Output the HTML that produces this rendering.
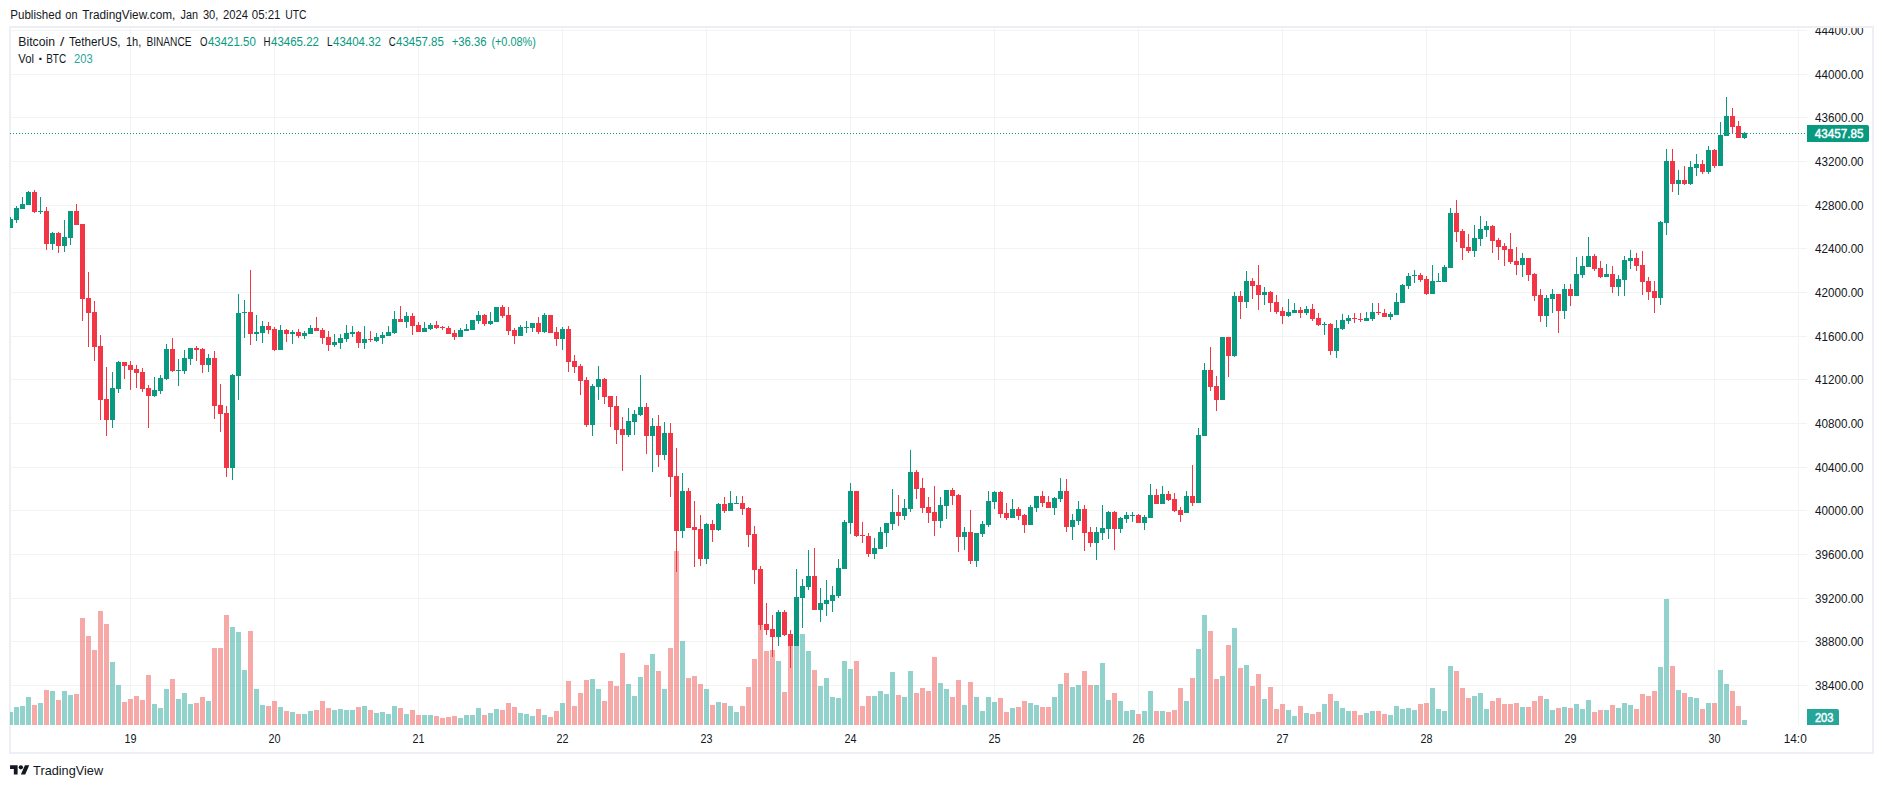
<!DOCTYPE html>
<html><head><meta charset="utf-8"><title>BTCUSDT chart</title>
<style>
html,body{margin:0;padding:0;background:#fff;}
body{width:1883px;height:788px;overflow:hidden;}
svg{display:block;}
text{font-family:"Liberation Sans",sans-serif;font-size:12px;fill:#131722;}
.ax{font-size:12.2px;}
.lb{font-size:12.6px;}
.g{fill:#089981;}
.v{fill:#26a69a;}
.w{fill:#fff;stroke:#fff;stroke-width:0.45px;}
</style></head><body>
<svg width="1883" height="788" viewBox="0 0 1883 788">
<rect width="1883" height="788" fill="#fff"/>
<defs><clipPath id="pane"><rect x="10" y="28" width="1797" height="697"/></clipPath>
<clipPath id="taxis"><rect x="10" y="725" width="1797" height="30"/></clipPath>
<clipPath id="paxis"><rect x="1807" y="28" width="70" height="697"/></clipPath></defs>

<rect x="10" y="27" width="1863" height="726" fill="none" stroke="#edeff4" stroke-width="2"/>
<g shape-rendering="crispEdges" fill="#f2f4f4">
<rect x="10" y="30" width="1797" height="1"/>
<rect x="10" y="74" width="1797" height="1"/>
<rect x="10" y="117" width="1797" height="1"/>
<rect x="10" y="161" width="1797" height="1"/>
<rect x="10" y="205" width="1797" height="1"/>
<rect x="10" y="248" width="1797" height="1"/>
<rect x="10" y="292" width="1797" height="1"/>
<rect x="10" y="336" width="1797" height="1"/>
<rect x="10" y="379" width="1797" height="1"/>
<rect x="10" y="423" width="1797" height="1"/>
<rect x="10" y="467" width="1797" height="1"/>
<rect x="10" y="510" width="1797" height="1"/>
<rect x="10" y="554" width="1797" height="1"/>
<rect x="10" y="598" width="1797" height="1"/>
<rect x="10" y="641" width="1797" height="1"/>
<rect x="10" y="685" width="1797" height="1"/>
<rect x="130" y="28" width="1" height="697"/>
<rect x="274" y="28" width="1" height="697"/>
<rect x="418" y="28" width="1" height="697"/>
<rect x="562" y="28" width="1" height="697"/>
<rect x="706" y="28" width="1" height="697"/>
<rect x="850" y="28" width="1" height="697"/>
<rect x="994" y="28" width="1" height="697"/>
<rect x="1138" y="28" width="1" height="697"/>
<rect x="1282" y="28" width="1" height="697"/>
<rect x="1426" y="28" width="1" height="697"/>
<rect x="1570" y="28" width="1" height="697"/>
<rect x="1714" y="28" width="1" height="697"/>
<rect x="1798" y="28" width="1" height="697"/>
</g>
<g shape-rendering="crispEdges" clip-path="url(#pane)">
<rect x="8" y="712" width="5" height="13" fill="rgba(38,166,154,0.5)"/>
<rect x="14" y="707" width="5" height="18" fill="rgba(38,166,154,0.5)"/>
<rect x="20" y="706" width="5" height="19" fill="rgba(38,166,154,0.5)"/>
<rect x="26" y="697" width="5" height="28" fill="rgba(38,166,154,0.5)"/>
<rect x="32" y="705" width="5" height="20" fill="rgba(239,83,80,0.5)"/>
<rect x="38" y="703" width="5" height="22" fill="rgba(38,166,154,0.5)"/>
<rect x="44" y="690" width="5" height="35" fill="rgba(239,83,80,0.5)"/>
<rect x="50" y="691" width="5" height="34" fill="rgba(38,166,154,0.5)"/>
<rect x="56" y="700" width="5" height="25" fill="rgba(239,83,80,0.5)"/>
<rect x="62" y="691" width="5" height="34" fill="rgba(38,166,154,0.5)"/>
<rect x="68" y="695" width="5" height="30" fill="rgba(38,166,154,0.5)"/>
<rect x="74" y="694" width="5" height="31" fill="rgba(239,83,80,0.5)"/>
<rect x="80" y="618" width="5" height="107" fill="rgba(239,83,80,0.5)"/>
<rect x="86" y="636" width="5" height="89" fill="rgba(239,83,80,0.5)"/>
<rect x="92" y="650" width="5" height="75" fill="rgba(239,83,80,0.5)"/>
<rect x="98" y="611" width="5" height="114" fill="rgba(239,83,80,0.5)"/>
<rect x="104" y="624" width="5" height="101" fill="rgba(239,83,80,0.5)"/>
<rect x="110" y="662" width="5" height="63" fill="rgba(38,166,154,0.5)"/>
<rect x="116" y="685" width="5" height="40" fill="rgba(38,166,154,0.5)"/>
<rect x="122" y="702" width="5" height="23" fill="rgba(239,83,80,0.5)"/>
<rect x="128" y="699" width="5" height="26" fill="rgba(239,83,80,0.5)"/>
<rect x="134" y="696" width="5" height="29" fill="rgba(239,83,80,0.5)"/>
<rect x="140" y="700" width="5" height="25" fill="rgba(239,83,80,0.5)"/>
<rect x="146" y="675" width="5" height="50" fill="rgba(239,83,80,0.5)"/>
<rect x="152" y="704" width="5" height="21" fill="rgba(38,166,154,0.5)"/>
<rect x="158" y="708" width="5" height="17" fill="rgba(38,166,154,0.5)"/>
<rect x="164" y="689" width="5" height="36" fill="rgba(38,166,154,0.5)"/>
<rect x="170" y="679" width="5" height="46" fill="rgba(239,83,80,0.5)"/>
<rect x="176" y="699" width="5" height="26" fill="rgba(38,166,154,0.5)"/>
<rect x="182" y="693" width="5" height="32" fill="rgba(38,166,154,0.5)"/>
<rect x="188" y="704" width="5" height="21" fill="rgba(38,166,154,0.5)"/>
<rect x="194" y="703" width="5" height="22" fill="rgba(239,83,80,0.5)"/>
<rect x="200" y="697" width="5" height="28" fill="rgba(239,83,80,0.5)"/>
<rect x="206" y="701" width="5" height="24" fill="rgba(38,166,154,0.5)"/>
<rect x="212" y="648" width="5" height="77" fill="rgba(239,83,80,0.5)"/>
<rect x="218" y="648" width="5" height="77" fill="rgba(239,83,80,0.5)"/>
<rect x="224" y="615" width="5" height="110" fill="rgba(239,83,80,0.5)"/>
<rect x="230" y="627" width="5" height="98" fill="rgba(38,166,154,0.5)"/>
<rect x="236" y="632" width="5" height="93" fill="rgba(38,166,154,0.5)"/>
<rect x="242" y="670" width="5" height="55" fill="rgba(38,166,154,0.5)"/>
<rect x="248" y="631" width="5" height="94" fill="rgba(239,83,80,0.5)"/>
<rect x="254" y="689" width="5" height="36" fill="rgba(38,166,154,0.5)"/>
<rect x="260" y="705" width="5" height="20" fill="rgba(38,166,154,0.5)"/>
<rect x="266" y="706" width="5" height="19" fill="rgba(239,83,80,0.5)"/>
<rect x="272" y="701" width="5" height="24" fill="rgba(239,83,80,0.5)"/>
<rect x="278" y="707" width="5" height="18" fill="rgba(38,166,154,0.5)"/>
<rect x="284" y="711" width="5" height="14" fill="rgba(239,83,80,0.5)"/>
<rect x="290" y="712" width="5" height="13" fill="rgba(38,166,154,0.5)"/>
<rect x="296" y="714" width="5" height="11" fill="rgba(239,83,80,0.5)"/>
<rect x="302" y="714" width="5" height="11" fill="rgba(38,166,154,0.5)"/>
<rect x="308" y="711" width="5" height="14" fill="rgba(38,166,154,0.5)"/>
<rect x="314" y="710" width="5" height="15" fill="rgba(239,83,80,0.5)"/>
<rect x="320" y="701" width="5" height="24" fill="rgba(239,83,80,0.5)"/>
<rect x="326" y="708" width="5" height="17" fill="rgba(239,83,80,0.5)"/>
<rect x="332" y="710" width="5" height="15" fill="rgba(38,166,154,0.5)"/>
<rect x="338" y="709" width="5" height="16" fill="rgba(38,166,154,0.5)"/>
<rect x="344" y="710" width="5" height="15" fill="rgba(38,166,154,0.5)"/>
<rect x="350" y="710" width="5" height="15" fill="rgba(38,166,154,0.5)"/>
<rect x="356" y="707" width="5" height="18" fill="rgba(239,83,80,0.5)"/>
<rect x="362" y="706" width="5" height="19" fill="rgba(38,166,154,0.5)"/>
<rect x="368" y="710" width="5" height="15" fill="rgba(239,83,80,0.5)"/>
<rect x="374" y="713" width="5" height="12" fill="rgba(38,166,154,0.5)"/>
<rect x="380" y="712" width="5" height="13" fill="rgba(38,166,154,0.5)"/>
<rect x="386" y="714" width="5" height="11" fill="rgba(38,166,154,0.5)"/>
<rect x="392" y="706" width="5" height="19" fill="rgba(38,166,154,0.5)"/>
<rect x="398" y="708" width="5" height="17" fill="rgba(239,83,80,0.5)"/>
<rect x="404" y="714" width="5" height="11" fill="rgba(38,166,154,0.5)"/>
<rect x="410" y="710" width="5" height="15" fill="rgba(239,83,80,0.5)"/>
<rect x="416" y="715" width="5" height="10" fill="rgba(239,83,80,0.5)"/>
<rect x="422" y="715" width="5" height="10" fill="rgba(38,166,154,0.5)"/>
<rect x="428" y="715" width="5" height="10" fill="rgba(38,166,154,0.5)"/>
<rect x="434" y="716" width="5" height="9" fill="rgba(239,83,80,0.5)"/>
<rect x="440" y="718" width="5" height="7" fill="rgba(239,83,80,0.5)"/>
<rect x="446" y="717" width="5" height="8" fill="rgba(239,83,80,0.5)"/>
<rect x="452" y="716" width="5" height="9" fill="rgba(239,83,80,0.5)"/>
<rect x="458" y="718" width="5" height="7" fill="rgba(38,166,154,0.5)"/>
<rect x="464" y="715" width="5" height="10" fill="rgba(38,166,154,0.5)"/>
<rect x="470" y="715" width="5" height="10" fill="rgba(38,166,154,0.5)"/>
<rect x="476" y="708" width="5" height="17" fill="rgba(38,166,154,0.5)"/>
<rect x="482" y="715" width="5" height="10" fill="rgba(239,83,80,0.5)"/>
<rect x="488" y="713" width="5" height="12" fill="rgba(38,166,154,0.5)"/>
<rect x="494" y="709" width="5" height="16" fill="rgba(38,166,154,0.5)"/>
<rect x="500" y="710" width="5" height="15" fill="rgba(239,83,80,0.5)"/>
<rect x="506" y="703" width="5" height="22" fill="rgba(239,83,80,0.5)"/>
<rect x="512" y="707" width="5" height="18" fill="rgba(239,83,80,0.5)"/>
<rect x="518" y="713" width="5" height="12" fill="rgba(38,166,154,0.5)"/>
<rect x="524" y="714" width="5" height="11" fill="rgba(38,166,154,0.5)"/>
<rect x="530" y="716" width="5" height="9" fill="rgba(38,166,154,0.5)"/>
<rect x="536" y="709" width="5" height="16" fill="rgba(239,83,80,0.5)"/>
<rect x="542" y="715" width="5" height="10" fill="rgba(38,166,154,0.5)"/>
<rect x="548" y="717" width="5" height="8" fill="rgba(239,83,80,0.5)"/>
<rect x="554" y="711" width="5" height="14" fill="rgba(239,83,80,0.5)"/>
<rect x="560" y="703" width="5" height="22" fill="rgba(38,166,154,0.5)"/>
<rect x="566" y="681" width="5" height="44" fill="rgba(239,83,80,0.5)"/>
<rect x="572" y="706" width="5" height="19" fill="rgba(239,83,80,0.5)"/>
<rect x="578" y="693" width="5" height="32" fill="rgba(239,83,80,0.5)"/>
<rect x="584" y="680" width="5" height="45" fill="rgba(239,83,80,0.5)"/>
<rect x="590" y="679" width="5" height="46" fill="rgba(38,166,154,0.5)"/>
<rect x="596" y="689" width="5" height="36" fill="rgba(38,166,154,0.5)"/>
<rect x="602" y="701" width="5" height="24" fill="rgba(239,83,80,0.5)"/>
<rect x="608" y="681" width="5" height="44" fill="rgba(239,83,80,0.5)"/>
<rect x="614" y="686" width="5" height="39" fill="rgba(239,83,80,0.5)"/>
<rect x="620" y="653" width="5" height="72" fill="rgba(239,83,80,0.5)"/>
<rect x="626" y="684" width="5" height="41" fill="rgba(38,166,154,0.5)"/>
<rect x="632" y="696" width="5" height="29" fill="rgba(38,166,154,0.5)"/>
<rect x="638" y="677" width="5" height="48" fill="rgba(38,166,154,0.5)"/>
<rect x="644" y="665" width="5" height="60" fill="rgba(239,83,80,0.5)"/>
<rect x="650" y="654" width="5" height="71" fill="rgba(38,166,154,0.5)"/>
<rect x="656" y="671" width="5" height="54" fill="rgba(239,83,80,0.5)"/>
<rect x="662" y="689" width="5" height="36" fill="rgba(38,166,154,0.5)"/>
<rect x="668" y="648" width="5" height="77" fill="rgba(239,83,80,0.5)"/>
<rect x="674" y="551" width="5" height="174" fill="rgba(239,83,80,0.5)"/>
<rect x="680" y="641" width="5" height="84" fill="rgba(38,166,154,0.5)"/>
<rect x="686" y="678" width="5" height="47" fill="rgba(239,83,80,0.5)"/>
<rect x="692" y="676" width="5" height="49" fill="rgba(239,83,80,0.5)"/>
<rect x="698" y="684" width="5" height="41" fill="rgba(239,83,80,0.5)"/>
<rect x="704" y="689" width="5" height="36" fill="rgba(38,166,154,0.5)"/>
<rect x="710" y="705" width="5" height="20" fill="rgba(239,83,80,0.5)"/>
<rect x="716" y="702" width="5" height="23" fill="rgba(38,166,154,0.5)"/>
<rect x="722" y="703" width="5" height="22" fill="rgba(239,83,80,0.5)"/>
<rect x="728" y="706" width="5" height="19" fill="rgba(38,166,154,0.5)"/>
<rect x="734" y="712" width="5" height="13" fill="rgba(38,166,154,0.5)"/>
<rect x="740" y="706" width="5" height="19" fill="rgba(239,83,80,0.5)"/>
<rect x="746" y="687" width="5" height="38" fill="rgba(239,83,80,0.5)"/>
<rect x="752" y="659" width="5" height="66" fill="rgba(239,83,80,0.5)"/>
<rect x="758" y="622" width="5" height="103" fill="rgba(239,83,80,0.5)"/>
<rect x="764" y="651" width="5" height="74" fill="rgba(239,83,80,0.5)"/>
<rect x="770" y="650" width="5" height="75" fill="rgba(239,83,80,0.5)"/>
<rect x="776" y="661" width="5" height="64" fill="rgba(38,166,154,0.5)"/>
<rect x="782" y="692" width="5" height="33" fill="rgba(239,83,80,0.5)"/>
<rect x="788" y="640" width="5" height="85" fill="rgba(239,83,80,0.5)"/>
<rect x="794" y="640" width="5" height="85" fill="rgba(38,166,154,0.5)"/>
<rect x="800" y="634" width="5" height="91" fill="rgba(38,166,154,0.5)"/>
<rect x="806" y="651" width="5" height="74" fill="rgba(38,166,154,0.5)"/>
<rect x="812" y="670" width="5" height="55" fill="rgba(239,83,80,0.5)"/>
<rect x="818" y="686" width="5" height="39" fill="rgba(38,166,154,0.5)"/>
<rect x="824" y="678" width="5" height="47" fill="rgba(38,166,154,0.5)"/>
<rect x="830" y="697" width="5" height="28" fill="rgba(38,166,154,0.5)"/>
<rect x="836" y="698" width="5" height="27" fill="rgba(38,166,154,0.5)"/>
<rect x="842" y="661" width="5" height="64" fill="rgba(38,166,154,0.5)"/>
<rect x="848" y="669" width="5" height="56" fill="rgba(38,166,154,0.5)"/>
<rect x="854" y="661" width="5" height="64" fill="rgba(239,83,80,0.5)"/>
<rect x="860" y="706" width="5" height="19" fill="rgba(239,83,80,0.5)"/>
<rect x="866" y="696" width="5" height="29" fill="rgba(239,83,80,0.5)"/>
<rect x="872" y="696" width="5" height="29" fill="rgba(38,166,154,0.5)"/>
<rect x="878" y="691" width="5" height="34" fill="rgba(38,166,154,0.5)"/>
<rect x="884" y="694" width="5" height="31" fill="rgba(38,166,154,0.5)"/>
<rect x="890" y="672" width="5" height="53" fill="rgba(38,166,154,0.5)"/>
<rect x="896" y="695" width="5" height="30" fill="rgba(239,83,80,0.5)"/>
<rect x="902" y="697" width="5" height="28" fill="rgba(38,166,154,0.5)"/>
<rect x="908" y="671" width="5" height="54" fill="rgba(38,166,154,0.5)"/>
<rect x="914" y="693" width="5" height="32" fill="rgba(239,83,80,0.5)"/>
<rect x="920" y="688" width="5" height="37" fill="rgba(239,83,80,0.5)"/>
<rect x="926" y="691" width="5" height="34" fill="rgba(239,83,80,0.5)"/>
<rect x="932" y="657" width="5" height="68" fill="rgba(239,83,80,0.5)"/>
<rect x="938" y="683" width="5" height="42" fill="rgba(38,166,154,0.5)"/>
<rect x="944" y="689" width="5" height="36" fill="rgba(38,166,154,0.5)"/>
<rect x="950" y="697" width="5" height="28" fill="rgba(239,83,80,0.5)"/>
<rect x="956" y="680" width="5" height="45" fill="rgba(239,83,80,0.5)"/>
<rect x="962" y="705" width="5" height="20" fill="rgba(38,166,154,0.5)"/>
<rect x="968" y="682" width="5" height="43" fill="rgba(239,83,80,0.5)"/>
<rect x="974" y="697" width="5" height="28" fill="rgba(38,166,154,0.5)"/>
<rect x="980" y="711" width="5" height="14" fill="rgba(38,166,154,0.5)"/>
<rect x="986" y="697" width="5" height="28" fill="rgba(38,166,154,0.5)"/>
<rect x="992" y="702" width="5" height="23" fill="rgba(38,166,154,0.5)"/>
<rect x="998" y="698" width="5" height="27" fill="rgba(239,83,80,0.5)"/>
<rect x="1004" y="712" width="5" height="13" fill="rgba(239,83,80,0.5)"/>
<rect x="1010" y="708" width="5" height="17" fill="rgba(38,166,154,0.5)"/>
<rect x="1016" y="707" width="5" height="18" fill="rgba(239,83,80,0.5)"/>
<rect x="1022" y="701" width="5" height="24" fill="rgba(239,83,80,0.5)"/>
<rect x="1028" y="703" width="5" height="22" fill="rgba(38,166,154,0.5)"/>
<rect x="1034" y="705" width="5" height="20" fill="rgba(38,166,154,0.5)"/>
<rect x="1040" y="707" width="5" height="18" fill="rgba(239,83,80,0.5)"/>
<rect x="1046" y="707" width="5" height="18" fill="rgba(239,83,80,0.5)"/>
<rect x="1052" y="697" width="5" height="28" fill="rgba(38,166,154,0.5)"/>
<rect x="1058" y="684" width="5" height="41" fill="rgba(38,166,154,0.5)"/>
<rect x="1064" y="673" width="5" height="52" fill="rgba(239,83,80,0.5)"/>
<rect x="1070" y="687" width="5" height="38" fill="rgba(38,166,154,0.5)"/>
<rect x="1076" y="685" width="5" height="40" fill="rgba(38,166,154,0.5)"/>
<rect x="1082" y="671" width="5" height="54" fill="rgba(239,83,80,0.5)"/>
<rect x="1088" y="685" width="5" height="40" fill="rgba(239,83,80,0.5)"/>
<rect x="1094" y="685" width="5" height="40" fill="rgba(38,166,154,0.5)"/>
<rect x="1100" y="663" width="5" height="62" fill="rgba(38,166,154,0.5)"/>
<rect x="1106" y="700" width="5" height="25" fill="rgba(38,166,154,0.5)"/>
<rect x="1112" y="693" width="5" height="32" fill="rgba(239,83,80,0.5)"/>
<rect x="1118" y="701" width="5" height="24" fill="rgba(38,166,154,0.5)"/>
<rect x="1124" y="711" width="5" height="14" fill="rgba(38,166,154,0.5)"/>
<rect x="1130" y="710" width="5" height="15" fill="rgba(38,166,154,0.5)"/>
<rect x="1136" y="714" width="5" height="11" fill="rgba(239,83,80,0.5)"/>
<rect x="1142" y="711" width="5" height="14" fill="rgba(38,166,154,0.5)"/>
<rect x="1148" y="691" width="5" height="34" fill="rgba(38,166,154,0.5)"/>
<rect x="1154" y="711" width="5" height="14" fill="rgba(239,83,80,0.5)"/>
<rect x="1160" y="711" width="5" height="14" fill="rgba(38,166,154,0.5)"/>
<rect x="1166" y="712" width="5" height="13" fill="rgba(239,83,80,0.5)"/>
<rect x="1172" y="710" width="5" height="15" fill="rgba(239,83,80,0.5)"/>
<rect x="1178" y="688" width="5" height="37" fill="rgba(239,83,80,0.5)"/>
<rect x="1184" y="701" width="5" height="24" fill="rgba(38,166,154,0.5)"/>
<rect x="1190" y="678" width="5" height="47" fill="rgba(239,83,80,0.5)"/>
<rect x="1196" y="649" width="5" height="76" fill="rgba(38,166,154,0.5)"/>
<rect x="1202" y="615" width="5" height="110" fill="rgba(38,166,154,0.5)"/>
<rect x="1208" y="631" width="5" height="94" fill="rgba(239,83,80,0.5)"/>
<rect x="1214" y="679" width="5" height="46" fill="rgba(239,83,80,0.5)"/>
<rect x="1220" y="676" width="5" height="49" fill="rgba(38,166,154,0.5)"/>
<rect x="1226" y="645" width="5" height="80" fill="rgba(239,83,80,0.5)"/>
<rect x="1232" y="628" width="5" height="97" fill="rgba(38,166,154,0.5)"/>
<rect x="1238" y="668" width="5" height="57" fill="rgba(239,83,80,0.5)"/>
<rect x="1244" y="665" width="5" height="60" fill="rgba(38,166,154,0.5)"/>
<rect x="1250" y="686" width="5" height="39" fill="rgba(239,83,80,0.5)"/>
<rect x="1256" y="674" width="5" height="51" fill="rgba(239,83,80,0.5)"/>
<rect x="1262" y="699" width="5" height="26" fill="rgba(38,166,154,0.5)"/>
<rect x="1268" y="687" width="5" height="38" fill="rgba(239,83,80,0.5)"/>
<rect x="1274" y="709" width="5" height="16" fill="rgba(239,83,80,0.5)"/>
<rect x="1280" y="704" width="5" height="21" fill="rgba(239,83,80,0.5)"/>
<rect x="1286" y="710" width="5" height="15" fill="rgba(38,166,154,0.5)"/>
<rect x="1292" y="716" width="5" height="9" fill="rgba(38,166,154,0.5)"/>
<rect x="1298" y="706" width="5" height="19" fill="rgba(239,83,80,0.5)"/>
<rect x="1304" y="713" width="5" height="12" fill="rgba(38,166,154,0.5)"/>
<rect x="1310" y="714" width="5" height="11" fill="rgba(239,83,80,0.5)"/>
<rect x="1316" y="712" width="5" height="13" fill="rgba(239,83,80,0.5)"/>
<rect x="1322" y="704" width="5" height="21" fill="rgba(38,166,154,0.5)"/>
<rect x="1328" y="694" width="5" height="31" fill="rgba(239,83,80,0.5)"/>
<rect x="1334" y="701" width="5" height="24" fill="rgba(38,166,154,0.5)"/>
<rect x="1340" y="708" width="5" height="17" fill="rgba(38,166,154,0.5)"/>
<rect x="1346" y="711" width="5" height="14" fill="rgba(38,166,154,0.5)"/>
<rect x="1352" y="711" width="5" height="14" fill="rgba(239,83,80,0.5)"/>
<rect x="1358" y="715" width="5" height="10" fill="rgba(239,83,80,0.5)"/>
<rect x="1364" y="713" width="5" height="12" fill="rgba(38,166,154,0.5)"/>
<rect x="1370" y="711" width="5" height="14" fill="rgba(38,166,154,0.5)"/>
<rect x="1376" y="711" width="5" height="14" fill="rgba(239,83,80,0.5)"/>
<rect x="1382" y="714" width="5" height="11" fill="rgba(239,83,80,0.5)"/>
<rect x="1388" y="715" width="5" height="10" fill="rgba(38,166,154,0.5)"/>
<rect x="1394" y="706" width="5" height="19" fill="rgba(38,166,154,0.5)"/>
<rect x="1400" y="709" width="5" height="16" fill="rgba(38,166,154,0.5)"/>
<rect x="1406" y="708" width="5" height="17" fill="rgba(38,166,154,0.5)"/>
<rect x="1412" y="710" width="5" height="15" fill="rgba(38,166,154,0.5)"/>
<rect x="1418" y="704" width="5" height="21" fill="rgba(239,83,80,0.5)"/>
<rect x="1424" y="703" width="5" height="22" fill="rgba(239,83,80,0.5)"/>
<rect x="1430" y="688" width="5" height="37" fill="rgba(38,166,154,0.5)"/>
<rect x="1436" y="709" width="5" height="16" fill="rgba(38,166,154,0.5)"/>
<rect x="1442" y="711" width="5" height="14" fill="rgba(38,166,154,0.5)"/>
<rect x="1448" y="666" width="5" height="59" fill="rgba(38,166,154,0.5)"/>
<rect x="1454" y="671" width="5" height="54" fill="rgba(239,83,80,0.5)"/>
<rect x="1460" y="688" width="5" height="37" fill="rgba(239,83,80,0.5)"/>
<rect x="1466" y="698" width="5" height="27" fill="rgba(239,83,80,0.5)"/>
<rect x="1472" y="696" width="5" height="29" fill="rgba(38,166,154,0.5)"/>
<rect x="1478" y="693" width="5" height="32" fill="rgba(38,166,154,0.5)"/>
<rect x="1484" y="709" width="5" height="16" fill="rgba(38,166,154,0.5)"/>
<rect x="1490" y="701" width="5" height="24" fill="rgba(239,83,80,0.5)"/>
<rect x="1496" y="698" width="5" height="27" fill="rgba(239,83,80,0.5)"/>
<rect x="1502" y="704" width="5" height="21" fill="rgba(239,83,80,0.5)"/>
<rect x="1508" y="704" width="5" height="21" fill="rgba(239,83,80,0.5)"/>
<rect x="1514" y="703" width="5" height="22" fill="rgba(239,83,80,0.5)"/>
<rect x="1520" y="707" width="5" height="18" fill="rgba(38,166,154,0.5)"/>
<rect x="1526" y="707" width="5" height="18" fill="rgba(239,83,80,0.5)"/>
<rect x="1532" y="701" width="5" height="24" fill="rgba(239,83,80,0.5)"/>
<rect x="1538" y="696" width="5" height="29" fill="rgba(239,83,80,0.5)"/>
<rect x="1544" y="699" width="5" height="26" fill="rgba(38,166,154,0.5)"/>
<rect x="1550" y="710" width="5" height="15" fill="rgba(38,166,154,0.5)"/>
<rect x="1556" y="708" width="5" height="17" fill="rgba(239,83,80,0.5)"/>
<rect x="1562" y="707" width="5" height="18" fill="rgba(38,166,154,0.5)"/>
<rect x="1568" y="708" width="5" height="17" fill="rgba(239,83,80,0.5)"/>
<rect x="1574" y="704" width="5" height="21" fill="rgba(38,166,154,0.5)"/>
<rect x="1580" y="709" width="5" height="16" fill="rgba(38,166,154,0.5)"/>
<rect x="1586" y="700" width="5" height="25" fill="rgba(38,166,154,0.5)"/>
<rect x="1592" y="712" width="5" height="13" fill="rgba(239,83,80,0.5)"/>
<rect x="1598" y="710" width="5" height="15" fill="rgba(239,83,80,0.5)"/>
<rect x="1604" y="710" width="5" height="15" fill="rgba(38,166,154,0.5)"/>
<rect x="1610" y="705" width="5" height="20" fill="rgba(239,83,80,0.5)"/>
<rect x="1616" y="708" width="5" height="17" fill="rgba(38,166,154,0.5)"/>
<rect x="1622" y="703" width="5" height="22" fill="rgba(38,166,154,0.5)"/>
<rect x="1628" y="705" width="5" height="20" fill="rgba(38,166,154,0.5)"/>
<rect x="1634" y="709" width="5" height="16" fill="rgba(239,83,80,0.5)"/>
<rect x="1640" y="694" width="5" height="31" fill="rgba(239,83,80,0.5)"/>
<rect x="1646" y="696" width="5" height="29" fill="rgba(239,83,80,0.5)"/>
<rect x="1652" y="691" width="5" height="34" fill="rgba(239,83,80,0.5)"/>
<rect x="1658" y="667" width="5" height="58" fill="rgba(38,166,154,0.5)"/>
<rect x="1664" y="599" width="5" height="126" fill="rgba(38,166,154,0.5)"/>
<rect x="1670" y="666" width="5" height="59" fill="rgba(239,83,80,0.5)"/>
<rect x="1676" y="690" width="5" height="35" fill="rgba(38,166,154,0.5)"/>
<rect x="1682" y="693" width="5" height="32" fill="rgba(239,83,80,0.5)"/>
<rect x="1688" y="697" width="5" height="28" fill="rgba(38,166,154,0.5)"/>
<rect x="1694" y="698" width="5" height="27" fill="rgba(38,166,154,0.5)"/>
<rect x="1700" y="709" width="5" height="16" fill="rgba(239,83,80,0.5)"/>
<rect x="1706" y="703" width="5" height="22" fill="rgba(38,166,154,0.5)"/>
<rect x="1712" y="703" width="5" height="22" fill="rgba(239,83,80,0.5)"/>
<rect x="1718" y="670" width="5" height="55" fill="rgba(38,166,154,0.5)"/>
<rect x="1724" y="684" width="5" height="41" fill="rgba(38,166,154,0.5)"/>
<rect x="1730" y="691" width="5" height="34" fill="rgba(239,83,80,0.5)"/>
<rect x="1736" y="706" width="5" height="19" fill="rgba(239,83,80,0.5)"/>
<rect x="1742" y="720" width="5" height="5" fill="rgba(38,166,154,0.5)"/>
</g>
<g shape-rendering="crispEdges" clip-path="url(#pane)">
<rect x="10" y="217" width="1" height="11" fill="#089981"/>
<rect x="8" y="219" width="5" height="9" fill="#089981"/>
<rect x="16" y="206" width="1" height="17" fill="#089981"/>
<rect x="14" y="208" width="5" height="12" fill="#089981"/>
<rect x="22" y="197" width="1" height="12" fill="#089981"/>
<rect x="20" y="204" width="5" height="5" fill="#089981"/>
<rect x="28" y="191" width="1" height="14" fill="#089981"/>
<rect x="26" y="192" width="5" height="13" fill="#089981"/>
<rect x="34" y="190" width="1" height="23" fill="#f23645"/>
<rect x="32" y="192" width="5" height="20" fill="#f23645"/>
<rect x="40" y="197" width="1" height="17" fill="#089981"/>
<rect x="38" y="211" width="5" height="1" fill="#089981"/>
<rect x="46" y="207" width="1" height="43" fill="#f23645"/>
<rect x="44" y="211" width="5" height="33" fill="#f23645"/>
<rect x="52" y="232" width="1" height="18" fill="#089981"/>
<rect x="50" y="233" width="5" height="11" fill="#089981"/>
<rect x="58" y="232" width="1" height="21" fill="#f23645"/>
<rect x="56" y="233" width="5" height="13" fill="#f23645"/>
<rect x="64" y="220" width="1" height="32" fill="#089981"/>
<rect x="62" y="237" width="5" height="9" fill="#089981"/>
<rect x="70" y="211" width="1" height="34" fill="#089981"/>
<rect x="68" y="211" width="5" height="27" fill="#089981"/>
<rect x="76" y="204" width="1" height="21" fill="#f23645"/>
<rect x="74" y="211" width="5" height="14" fill="#f23645"/>
<rect x="82" y="224" width="1" height="97" fill="#f23645"/>
<rect x="80" y="224" width="5" height="75" fill="#f23645"/>
<rect x="88" y="272" width="1" height="75" fill="#f23645"/>
<rect x="86" y="298" width="5" height="15" fill="#f23645"/>
<rect x="94" y="301" width="1" height="60" fill="#f23645"/>
<rect x="92" y="312" width="5" height="35" fill="#f23645"/>
<rect x="100" y="335" width="1" height="85" fill="#f23645"/>
<rect x="98" y="346" width="5" height="54" fill="#f23645"/>
<rect x="106" y="367" width="1" height="69" fill="#f23645"/>
<rect x="104" y="399" width="5" height="21" fill="#f23645"/>
<rect x="112" y="372" width="1" height="56" fill="#089981"/>
<rect x="110" y="388" width="5" height="32" fill="#089981"/>
<rect x="118" y="361" width="1" height="32" fill="#089981"/>
<rect x="116" y="362" width="5" height="27" fill="#089981"/>
<rect x="124" y="362" width="1" height="17" fill="#f23645"/>
<rect x="122" y="362" width="5" height="4" fill="#f23645"/>
<rect x="130" y="361" width="1" height="29" fill="#f23645"/>
<rect x="128" y="365" width="5" height="5" fill="#f23645"/>
<rect x="136" y="365" width="1" height="23" fill="#f23645"/>
<rect x="134" y="369" width="5" height="4" fill="#f23645"/>
<rect x="142" y="368" width="1" height="24" fill="#f23645"/>
<rect x="140" y="372" width="5" height="17" fill="#f23645"/>
<rect x="148" y="385" width="1" height="43" fill="#f23645"/>
<rect x="146" y="388" width="5" height="8" fill="#f23645"/>
<rect x="154" y="377" width="1" height="20" fill="#089981"/>
<rect x="152" y="390" width="5" height="6" fill="#089981"/>
<rect x="160" y="375" width="1" height="19" fill="#089981"/>
<rect x="158" y="378" width="5" height="13" fill="#089981"/>
<rect x="166" y="344" width="1" height="36" fill="#089981"/>
<rect x="164" y="349" width="5" height="30" fill="#089981"/>
<rect x="172" y="338" width="1" height="34" fill="#f23645"/>
<rect x="170" y="349" width="5" height="22" fill="#f23645"/>
<rect x="178" y="359" width="1" height="27" fill="#089981"/>
<rect x="176" y="370" width="5" height="1" fill="#089981"/>
<rect x="184" y="350" width="1" height="24" fill="#089981"/>
<rect x="182" y="358" width="5" height="13" fill="#089981"/>
<rect x="190" y="348" width="1" height="17" fill="#089981"/>
<rect x="188" y="348" width="5" height="11" fill="#089981"/>
<rect x="196" y="346" width="1" height="15" fill="#f23645"/>
<rect x="194" y="348" width="5" height="2" fill="#f23645"/>
<rect x="202" y="348" width="1" height="25" fill="#f23645"/>
<rect x="200" y="349" width="5" height="16" fill="#f23645"/>
<rect x="208" y="354" width="1" height="18" fill="#089981"/>
<rect x="206" y="358" width="5" height="7" fill="#089981"/>
<rect x="214" y="351" width="1" height="68" fill="#f23645"/>
<rect x="212" y="358" width="5" height="48" fill="#f23645"/>
<rect x="220" y="384" width="1" height="48" fill="#f23645"/>
<rect x="218" y="405" width="5" height="9" fill="#f23645"/>
<rect x="226" y="406" width="1" height="71" fill="#f23645"/>
<rect x="224" y="413" width="5" height="55" fill="#f23645"/>
<rect x="232" y="374" width="1" height="106" fill="#089981"/>
<rect x="230" y="375" width="5" height="93" fill="#089981"/>
<rect x="238" y="294" width="1" height="106" fill="#089981"/>
<rect x="236" y="313" width="5" height="63" fill="#089981"/>
<rect x="244" y="300" width="1" height="38" fill="#089981"/>
<rect x="242" y="312" width="5" height="1" fill="#089981"/>
<rect x="250" y="270" width="1" height="75" fill="#f23645"/>
<rect x="248" y="312" width="5" height="22" fill="#f23645"/>
<rect x="256" y="315" width="1" height="26" fill="#089981"/>
<rect x="254" y="332" width="5" height="2" fill="#089981"/>
<rect x="262" y="321" width="1" height="22" fill="#089981"/>
<rect x="260" y="326" width="5" height="7" fill="#089981"/>
<rect x="268" y="322" width="1" height="12" fill="#f23645"/>
<rect x="266" y="326" width="5" height="4" fill="#f23645"/>
<rect x="274" y="327" width="1" height="24" fill="#f23645"/>
<rect x="272" y="329" width="5" height="21" fill="#f23645"/>
<rect x="280" y="325" width="1" height="25" fill="#089981"/>
<rect x="278" y="330" width="5" height="20" fill="#089981"/>
<rect x="286" y="329" width="1" height="13" fill="#f23645"/>
<rect x="284" y="330" width="5" height="4" fill="#f23645"/>
<rect x="292" y="330" width="1" height="14" fill="#089981"/>
<rect x="290" y="332" width="5" height="2" fill="#089981"/>
<rect x="298" y="329" width="1" height="9" fill="#f23645"/>
<rect x="296" y="332" width="5" height="4" fill="#f23645"/>
<rect x="304" y="331" width="1" height="8" fill="#089981"/>
<rect x="302" y="333" width="5" height="3" fill="#089981"/>
<rect x="310" y="325" width="1" height="9" fill="#089981"/>
<rect x="308" y="328" width="5" height="6" fill="#089981"/>
<rect x="316" y="317" width="1" height="14" fill="#f23645"/>
<rect x="314" y="328" width="5" height="3" fill="#f23645"/>
<rect x="322" y="328" width="1" height="16" fill="#f23645"/>
<rect x="320" y="330" width="5" height="8" fill="#f23645"/>
<rect x="328" y="331" width="1" height="20" fill="#f23645"/>
<rect x="326" y="337" width="5" height="8" fill="#f23645"/>
<rect x="334" y="334" width="1" height="13" fill="#089981"/>
<rect x="332" y="342" width="5" height="3" fill="#089981"/>
<rect x="340" y="334" width="1" height="15" fill="#089981"/>
<rect x="338" y="338" width="5" height="5" fill="#089981"/>
<rect x="346" y="325" width="1" height="17" fill="#089981"/>
<rect x="344" y="333" width="5" height="6" fill="#089981"/>
<rect x="352" y="326" width="1" height="11" fill="#089981"/>
<rect x="350" y="332" width="5" height="2" fill="#089981"/>
<rect x="358" y="331" width="1" height="17" fill="#f23645"/>
<rect x="356" y="332" width="5" height="11" fill="#f23645"/>
<rect x="364" y="326" width="1" height="23" fill="#089981"/>
<rect x="362" y="339" width="5" height="4" fill="#089981"/>
<rect x="370" y="331" width="1" height="11" fill="#f23645"/>
<rect x="368" y="339" width="5" height="1" fill="#f23645"/>
<rect x="376" y="333" width="1" height="9" fill="#089981"/>
<rect x="374" y="337" width="5" height="4" fill="#089981"/>
<rect x="382" y="332" width="1" height="12" fill="#089981"/>
<rect x="380" y="335" width="5" height="3" fill="#089981"/>
<rect x="388" y="326" width="1" height="10" fill="#089981"/>
<rect x="386" y="332" width="5" height="4" fill="#089981"/>
<rect x="394" y="311" width="1" height="23" fill="#089981"/>
<rect x="392" y="319" width="5" height="14" fill="#089981"/>
<rect x="400" y="306" width="1" height="16" fill="#f23645"/>
<rect x="398" y="319" width="5" height="3" fill="#f23645"/>
<rect x="406" y="312" width="1" height="16" fill="#089981"/>
<rect x="404" y="316" width="5" height="6" fill="#089981"/>
<rect x="412" y="313" width="1" height="22" fill="#f23645"/>
<rect x="410" y="316" width="5" height="10" fill="#f23645"/>
<rect x="418" y="322" width="1" height="10" fill="#f23645"/>
<rect x="416" y="325" width="5" height="7" fill="#f23645"/>
<rect x="424" y="322" width="1" height="10" fill="#089981"/>
<rect x="422" y="328" width="5" height="4" fill="#089981"/>
<rect x="430" y="323" width="1" height="7" fill="#089981"/>
<rect x="428" y="325" width="5" height="4" fill="#089981"/>
<rect x="436" y="321" width="1" height="8" fill="#f23645"/>
<rect x="434" y="325" width="5" height="3" fill="#f23645"/>
<rect x="442" y="326" width="1" height="4" fill="#f23645"/>
<rect x="440" y="327" width="5" height="1" fill="#f23645"/>
<rect x="448" y="326" width="1" height="8" fill="#f23645"/>
<rect x="446" y="328" width="5" height="6" fill="#f23645"/>
<rect x="454" y="330" width="1" height="10" fill="#f23645"/>
<rect x="452" y="333" width="5" height="4" fill="#f23645"/>
<rect x="460" y="328" width="1" height="9" fill="#089981"/>
<rect x="458" y="330" width="5" height="7" fill="#089981"/>
<rect x="466" y="324" width="1" height="7" fill="#089981"/>
<rect x="464" y="329" width="5" height="2" fill="#089981"/>
<rect x="472" y="320" width="1" height="10" fill="#089981"/>
<rect x="470" y="320" width="5" height="10" fill="#089981"/>
<rect x="478" y="311" width="1" height="13" fill="#089981"/>
<rect x="476" y="315" width="5" height="6" fill="#089981"/>
<rect x="484" y="314" width="1" height="12" fill="#f23645"/>
<rect x="482" y="315" width="5" height="9" fill="#f23645"/>
<rect x="490" y="312" width="1" height="13" fill="#089981"/>
<rect x="488" y="321" width="5" height="3" fill="#089981"/>
<rect x="496" y="307" width="1" height="15" fill="#089981"/>
<rect x="494" y="307" width="5" height="15" fill="#089981"/>
<rect x="502" y="305" width="1" height="13" fill="#f23645"/>
<rect x="500" y="307" width="5" height="9" fill="#f23645"/>
<rect x="508" y="307" width="1" height="28" fill="#f23645"/>
<rect x="506" y="315" width="5" height="16" fill="#f23645"/>
<rect x="514" y="328" width="1" height="16" fill="#f23645"/>
<rect x="512" y="330" width="5" height="6" fill="#f23645"/>
<rect x="520" y="325" width="1" height="11" fill="#089981"/>
<rect x="518" y="327" width="5" height="9" fill="#089981"/>
<rect x="526" y="321" width="1" height="12" fill="#089981"/>
<rect x="524" y="327" width="5" height="1" fill="#089981"/>
<rect x="532" y="323" width="1" height="9" fill="#089981"/>
<rect x="530" y="323" width="5" height="5" fill="#089981"/>
<rect x="538" y="317" width="1" height="17" fill="#f23645"/>
<rect x="536" y="323" width="5" height="9" fill="#f23645"/>
<rect x="544" y="313" width="1" height="20" fill="#089981"/>
<rect x="542" y="315" width="5" height="17" fill="#089981"/>
<rect x="550" y="315" width="1" height="18" fill="#f23645"/>
<rect x="548" y="315" width="5" height="18" fill="#f23645"/>
<rect x="556" y="327" width="1" height="19" fill="#f23645"/>
<rect x="554" y="332" width="5" height="7" fill="#f23645"/>
<rect x="562" y="327" width="1" height="23" fill="#089981"/>
<rect x="560" y="329" width="5" height="10" fill="#089981"/>
<rect x="568" y="326" width="1" height="46" fill="#f23645"/>
<rect x="566" y="329" width="5" height="33" fill="#f23645"/>
<rect x="574" y="355" width="1" height="18" fill="#f23645"/>
<rect x="572" y="361" width="5" height="6" fill="#f23645"/>
<rect x="580" y="364" width="1" height="31" fill="#f23645"/>
<rect x="578" y="366" width="5" height="15" fill="#f23645"/>
<rect x="586" y="377" width="1" height="50" fill="#f23645"/>
<rect x="584" y="380" width="5" height="45" fill="#f23645"/>
<rect x="592" y="384" width="1" height="52" fill="#089981"/>
<rect x="590" y="386" width="5" height="39" fill="#089981"/>
<rect x="598" y="366" width="1" height="34" fill="#089981"/>
<rect x="596" y="379" width="5" height="8" fill="#089981"/>
<rect x="604" y="378" width="1" height="26" fill="#f23645"/>
<rect x="602" y="379" width="5" height="18" fill="#f23645"/>
<rect x="610" y="396" width="1" height="31" fill="#f23645"/>
<rect x="608" y="396" width="5" height="11" fill="#f23645"/>
<rect x="616" y="396" width="1" height="48" fill="#f23645"/>
<rect x="614" y="406" width="5" height="24" fill="#f23645"/>
<rect x="622" y="417" width="1" height="54" fill="#f23645"/>
<rect x="620" y="429" width="5" height="6" fill="#f23645"/>
<rect x="628" y="408" width="1" height="29" fill="#089981"/>
<rect x="626" y="421" width="5" height="14" fill="#089981"/>
<rect x="634" y="410" width="1" height="25" fill="#089981"/>
<rect x="632" y="414" width="5" height="8" fill="#089981"/>
<rect x="640" y="375" width="1" height="41" fill="#089981"/>
<rect x="638" y="407" width="5" height="8" fill="#089981"/>
<rect x="646" y="403" width="1" height="51" fill="#f23645"/>
<rect x="644" y="407" width="5" height="29" fill="#f23645"/>
<rect x="652" y="418" width="1" height="54" fill="#089981"/>
<rect x="650" y="426" width="5" height="10" fill="#089981"/>
<rect x="658" y="415" width="1" height="52" fill="#f23645"/>
<rect x="656" y="426" width="5" height="29" fill="#f23645"/>
<rect x="664" y="422" width="1" height="38" fill="#089981"/>
<rect x="662" y="433" width="5" height="22" fill="#089981"/>
<rect x="670" y="423" width="1" height="74" fill="#f23645"/>
<rect x="668" y="433" width="5" height="44" fill="#f23645"/>
<rect x="676" y="448" width="1" height="124" fill="#f23645"/>
<rect x="674" y="476" width="5" height="55" fill="#f23645"/>
<rect x="682" y="473" width="1" height="65" fill="#089981"/>
<rect x="680" y="491" width="5" height="40" fill="#089981"/>
<rect x="688" y="488" width="1" height="40" fill="#f23645"/>
<rect x="686" y="491" width="5" height="37" fill="#f23645"/>
<rect x="694" y="501" width="1" height="66" fill="#f23645"/>
<rect x="692" y="527" width="5" height="3" fill="#f23645"/>
<rect x="700" y="515" width="1" height="51" fill="#f23645"/>
<rect x="698" y="529" width="5" height="30" fill="#f23645"/>
<rect x="706" y="523" width="1" height="41" fill="#089981"/>
<rect x="704" y="524" width="5" height="35" fill="#089981"/>
<rect x="712" y="520" width="1" height="22" fill="#f23645"/>
<rect x="710" y="524" width="5" height="6" fill="#f23645"/>
<rect x="718" y="503" width="1" height="28" fill="#089981"/>
<rect x="716" y="504" width="5" height="26" fill="#089981"/>
<rect x="724" y="497" width="1" height="16" fill="#f23645"/>
<rect x="722" y="504" width="5" height="7" fill="#f23645"/>
<rect x="730" y="491" width="1" height="20" fill="#089981"/>
<rect x="728" y="503" width="5" height="8" fill="#089981"/>
<rect x="736" y="496" width="1" height="8" fill="#089981"/>
<rect x="734" y="503" width="5" height="1" fill="#089981"/>
<rect x="742" y="496" width="1" height="19" fill="#f23645"/>
<rect x="740" y="503" width="5" height="6" fill="#f23645"/>
<rect x="748" y="507" width="1" height="40" fill="#f23645"/>
<rect x="746" y="508" width="5" height="27" fill="#f23645"/>
<rect x="754" y="526" width="1" height="58" fill="#f23645"/>
<rect x="752" y="534" width="5" height="36" fill="#f23645"/>
<rect x="760" y="566" width="1" height="64" fill="#f23645"/>
<rect x="758" y="569" width="5" height="56" fill="#f23645"/>
<rect x="766" y="603" width="1" height="32" fill="#f23645"/>
<rect x="764" y="624" width="5" height="6" fill="#f23645"/>
<rect x="772" y="615" width="1" height="42" fill="#f23645"/>
<rect x="770" y="629" width="5" height="8" fill="#f23645"/>
<rect x="778" y="610" width="1" height="36" fill="#089981"/>
<rect x="776" y="612" width="5" height="25" fill="#089981"/>
<rect x="784" y="610" width="1" height="26" fill="#f23645"/>
<rect x="782" y="612" width="5" height="23" fill="#f23645"/>
<rect x="790" y="630" width="1" height="38" fill="#f23645"/>
<rect x="788" y="634" width="5" height="12" fill="#f23645"/>
<rect x="796" y="569" width="1" height="77" fill="#089981"/>
<rect x="794" y="597" width="5" height="49" fill="#089981"/>
<rect x="802" y="579" width="1" height="49" fill="#089981"/>
<rect x="800" y="586" width="5" height="12" fill="#089981"/>
<rect x="808" y="550" width="1" height="40" fill="#089981"/>
<rect x="806" y="576" width="5" height="11" fill="#089981"/>
<rect x="814" y="548" width="1" height="62" fill="#f23645"/>
<rect x="812" y="576" width="5" height="34" fill="#f23645"/>
<rect x="820" y="588" width="1" height="34" fill="#089981"/>
<rect x="818" y="603" width="5" height="7" fill="#089981"/>
<rect x="826" y="580" width="1" height="36" fill="#089981"/>
<rect x="824" y="600" width="5" height="4" fill="#089981"/>
<rect x="832" y="586" width="1" height="26" fill="#089981"/>
<rect x="830" y="595" width="5" height="6" fill="#089981"/>
<rect x="838" y="559" width="1" height="39" fill="#089981"/>
<rect x="836" y="568" width="5" height="28" fill="#089981"/>
<rect x="844" y="520" width="1" height="49" fill="#089981"/>
<rect x="842" y="522" width="5" height="47" fill="#089981"/>
<rect x="850" y="483" width="1" height="51" fill="#089981"/>
<rect x="848" y="491" width="5" height="32" fill="#089981"/>
<rect x="856" y="491" width="1" height="46" fill="#f23645"/>
<rect x="854" y="491" width="5" height="45" fill="#f23645"/>
<rect x="862" y="522" width="1" height="21" fill="#f23645"/>
<rect x="860" y="535" width="5" height="1" fill="#f23645"/>
<rect x="868" y="533" width="1" height="24" fill="#f23645"/>
<rect x="866" y="536" width="5" height="18" fill="#f23645"/>
<rect x="874" y="538" width="1" height="21" fill="#089981"/>
<rect x="872" y="548" width="5" height="6" fill="#089981"/>
<rect x="880" y="527" width="1" height="22" fill="#089981"/>
<rect x="878" y="532" width="5" height="17" fill="#089981"/>
<rect x="886" y="523" width="1" height="24" fill="#089981"/>
<rect x="884" y="523" width="5" height="10" fill="#089981"/>
<rect x="892" y="489" width="1" height="41" fill="#089981"/>
<rect x="890" y="512" width="5" height="12" fill="#089981"/>
<rect x="898" y="495" width="1" height="31" fill="#f23645"/>
<rect x="896" y="512" width="5" height="4" fill="#f23645"/>
<rect x="904" y="499" width="1" height="21" fill="#089981"/>
<rect x="902" y="508" width="5" height="8" fill="#089981"/>
<rect x="910" y="450" width="1" height="62" fill="#089981"/>
<rect x="908" y="472" width="5" height="37" fill="#089981"/>
<rect x="916" y="470" width="1" height="29" fill="#f23645"/>
<rect x="914" y="472" width="5" height="17" fill="#f23645"/>
<rect x="922" y="478" width="1" height="35" fill="#f23645"/>
<rect x="920" y="488" width="5" height="20" fill="#f23645"/>
<rect x="928" y="497" width="1" height="26" fill="#f23645"/>
<rect x="926" y="507" width="5" height="6" fill="#f23645"/>
<rect x="934" y="486" width="1" height="50" fill="#f23645"/>
<rect x="932" y="512" width="5" height="9" fill="#f23645"/>
<rect x="940" y="497" width="1" height="31" fill="#089981"/>
<rect x="938" y="505" width="5" height="16" fill="#089981"/>
<rect x="946" y="490" width="1" height="29" fill="#089981"/>
<rect x="944" y="490" width="5" height="16" fill="#089981"/>
<rect x="952" y="488" width="1" height="17" fill="#f23645"/>
<rect x="950" y="490" width="5" height="6" fill="#f23645"/>
<rect x="958" y="494" width="1" height="58" fill="#f23645"/>
<rect x="956" y="495" width="5" height="42" fill="#f23645"/>
<rect x="964" y="527" width="1" height="23" fill="#089981"/>
<rect x="962" y="532" width="5" height="5" fill="#089981"/>
<rect x="970" y="510" width="1" height="54" fill="#f23645"/>
<rect x="968" y="532" width="5" height="29" fill="#f23645"/>
<rect x="976" y="533" width="1" height="34" fill="#089981"/>
<rect x="974" y="533" width="5" height="28" fill="#089981"/>
<rect x="982" y="521" width="1" height="16" fill="#089981"/>
<rect x="980" y="524" width="5" height="10" fill="#089981"/>
<rect x="988" y="491" width="1" height="36" fill="#089981"/>
<rect x="986" y="501" width="5" height="24" fill="#089981"/>
<rect x="994" y="491" width="1" height="18" fill="#089981"/>
<rect x="992" y="492" width="5" height="10" fill="#089981"/>
<rect x="1000" y="491" width="1" height="27" fill="#f23645"/>
<rect x="998" y="492" width="5" height="22" fill="#f23645"/>
<rect x="1006" y="503" width="1" height="17" fill="#f23645"/>
<rect x="1004" y="513" width="5" height="5" fill="#f23645"/>
<rect x="1012" y="499" width="1" height="19" fill="#089981"/>
<rect x="1010" y="509" width="5" height="9" fill="#089981"/>
<rect x="1018" y="507" width="1" height="13" fill="#f23645"/>
<rect x="1016" y="509" width="5" height="7" fill="#f23645"/>
<rect x="1024" y="514" width="1" height="19" fill="#f23645"/>
<rect x="1022" y="515" width="5" height="10" fill="#f23645"/>
<rect x="1030" y="505" width="1" height="20" fill="#089981"/>
<rect x="1028" y="507" width="5" height="18" fill="#089981"/>
<rect x="1036" y="496" width="1" height="16" fill="#089981"/>
<rect x="1034" y="496" width="5" height="12" fill="#089981"/>
<rect x="1042" y="491" width="1" height="16" fill="#f23645"/>
<rect x="1040" y="496" width="5" height="7" fill="#f23645"/>
<rect x="1048" y="496" width="1" height="12" fill="#f23645"/>
<rect x="1046" y="502" width="5" height="6" fill="#f23645"/>
<rect x="1054" y="497" width="1" height="18" fill="#089981"/>
<rect x="1052" y="498" width="5" height="10" fill="#089981"/>
<rect x="1060" y="478" width="1" height="24" fill="#089981"/>
<rect x="1058" y="491" width="5" height="8" fill="#089981"/>
<rect x="1066" y="479" width="1" height="53" fill="#f23645"/>
<rect x="1064" y="491" width="5" height="36" fill="#f23645"/>
<rect x="1072" y="514" width="1" height="26" fill="#089981"/>
<rect x="1070" y="520" width="5" height="7" fill="#089981"/>
<rect x="1078" y="501" width="1" height="24" fill="#089981"/>
<rect x="1076" y="509" width="5" height="12" fill="#089981"/>
<rect x="1084" y="505" width="1" height="46" fill="#f23645"/>
<rect x="1082" y="509" width="5" height="24" fill="#f23645"/>
<rect x="1090" y="527" width="1" height="20" fill="#f23645"/>
<rect x="1088" y="532" width="5" height="11" fill="#f23645"/>
<rect x="1096" y="527" width="1" height="33" fill="#089981"/>
<rect x="1094" y="532" width="5" height="11" fill="#089981"/>
<rect x="1102" y="505" width="1" height="35" fill="#089981"/>
<rect x="1100" y="528" width="5" height="5" fill="#089981"/>
<rect x="1108" y="511" width="1" height="28" fill="#089981"/>
<rect x="1106" y="512" width="5" height="17" fill="#089981"/>
<rect x="1114" y="511" width="1" height="39" fill="#f23645"/>
<rect x="1112" y="512" width="5" height="17" fill="#f23645"/>
<rect x="1120" y="517" width="1" height="16" fill="#089981"/>
<rect x="1118" y="518" width="5" height="11" fill="#089981"/>
<rect x="1126" y="512" width="1" height="11" fill="#089981"/>
<rect x="1124" y="515" width="5" height="4" fill="#089981"/>
<rect x="1132" y="512" width="1" height="10" fill="#089981"/>
<rect x="1130" y="515" width="5" height="1" fill="#089981"/>
<rect x="1138" y="514" width="1" height="9" fill="#f23645"/>
<rect x="1136" y="515" width="5" height="8" fill="#f23645"/>
<rect x="1144" y="515" width="1" height="15" fill="#089981"/>
<rect x="1142" y="517" width="5" height="6" fill="#089981"/>
<rect x="1150" y="484" width="1" height="34" fill="#089981"/>
<rect x="1148" y="495" width="5" height="23" fill="#089981"/>
<rect x="1156" y="489" width="1" height="15" fill="#f23645"/>
<rect x="1154" y="495" width="5" height="9" fill="#f23645"/>
<rect x="1162" y="486" width="1" height="18" fill="#089981"/>
<rect x="1160" y="494" width="5" height="10" fill="#089981"/>
<rect x="1168" y="491" width="1" height="10" fill="#f23645"/>
<rect x="1166" y="494" width="5" height="6" fill="#f23645"/>
<rect x="1174" y="493" width="1" height="19" fill="#f23645"/>
<rect x="1172" y="499" width="5" height="12" fill="#f23645"/>
<rect x="1180" y="507" width="1" height="15" fill="#f23645"/>
<rect x="1178" y="510" width="5" height="5" fill="#f23645"/>
<rect x="1186" y="491" width="1" height="22" fill="#089981"/>
<rect x="1184" y="496" width="5" height="17" fill="#089981"/>
<rect x="1192" y="465" width="1" height="41" fill="#f23645"/>
<rect x="1190" y="496" width="5" height="7" fill="#f23645"/>
<rect x="1198" y="428" width="1" height="75" fill="#089981"/>
<rect x="1196" y="435" width="5" height="68" fill="#089981"/>
<rect x="1204" y="363" width="1" height="73" fill="#089981"/>
<rect x="1202" y="370" width="5" height="66" fill="#089981"/>
<rect x="1210" y="347" width="1" height="44" fill="#f23645"/>
<rect x="1208" y="370" width="5" height="17" fill="#f23645"/>
<rect x="1216" y="376" width="1" height="35" fill="#f23645"/>
<rect x="1214" y="386" width="5" height="14" fill="#f23645"/>
<rect x="1222" y="337" width="1" height="63" fill="#089981"/>
<rect x="1220" y="337" width="5" height="63" fill="#089981"/>
<rect x="1228" y="337" width="1" height="40" fill="#f23645"/>
<rect x="1226" y="337" width="5" height="19" fill="#f23645"/>
<rect x="1234" y="292" width="1" height="65" fill="#089981"/>
<rect x="1232" y="296" width="5" height="60" fill="#089981"/>
<rect x="1240" y="291" width="1" height="28" fill="#f23645"/>
<rect x="1238" y="296" width="5" height="6" fill="#f23645"/>
<rect x="1246" y="271" width="1" height="37" fill="#089981"/>
<rect x="1244" y="281" width="5" height="21" fill="#089981"/>
<rect x="1252" y="278" width="1" height="21" fill="#f23645"/>
<rect x="1250" y="281" width="5" height="5" fill="#f23645"/>
<rect x="1258" y="265" width="1" height="45" fill="#f23645"/>
<rect x="1256" y="285" width="5" height="10" fill="#f23645"/>
<rect x="1264" y="287" width="1" height="18" fill="#089981"/>
<rect x="1262" y="292" width="5" height="3" fill="#089981"/>
<rect x="1270" y="291" width="1" height="21" fill="#f23645"/>
<rect x="1268" y="292" width="5" height="11" fill="#f23645"/>
<rect x="1276" y="295" width="1" height="19" fill="#f23645"/>
<rect x="1274" y="302" width="5" height="10" fill="#f23645"/>
<rect x="1282" y="307" width="1" height="17" fill="#f23645"/>
<rect x="1280" y="311" width="5" height="5" fill="#f23645"/>
<rect x="1288" y="299" width="1" height="18" fill="#089981"/>
<rect x="1286" y="312" width="5" height="4" fill="#089981"/>
<rect x="1294" y="303" width="1" height="10" fill="#089981"/>
<rect x="1292" y="310" width="5" height="3" fill="#089981"/>
<rect x="1300" y="307" width="1" height="11" fill="#f23645"/>
<rect x="1298" y="310" width="5" height="3" fill="#f23645"/>
<rect x="1306" y="306" width="1" height="9" fill="#089981"/>
<rect x="1304" y="309" width="5" height="4" fill="#089981"/>
<rect x="1312" y="304" width="1" height="17" fill="#f23645"/>
<rect x="1310" y="309" width="5" height="10" fill="#f23645"/>
<rect x="1318" y="313" width="1" height="13" fill="#f23645"/>
<rect x="1316" y="318" width="5" height="7" fill="#f23645"/>
<rect x="1324" y="322" width="1" height="13" fill="#089981"/>
<rect x="1322" y="324" width="5" height="1" fill="#089981"/>
<rect x="1330" y="323" width="1" height="32" fill="#f23645"/>
<rect x="1328" y="324" width="5" height="27" fill="#f23645"/>
<rect x="1336" y="320" width="1" height="38" fill="#089981"/>
<rect x="1334" y="328" width="5" height="23" fill="#089981"/>
<rect x="1342" y="314" width="1" height="16" fill="#089981"/>
<rect x="1340" y="320" width="5" height="9" fill="#089981"/>
<rect x="1348" y="315" width="1" height="9" fill="#089981"/>
<rect x="1346" y="318" width="5" height="3" fill="#089981"/>
<rect x="1354" y="313" width="1" height="10" fill="#f23645"/>
<rect x="1352" y="318" width="5" height="1" fill="#f23645"/>
<rect x="1360" y="313" width="1" height="9" fill="#f23645"/>
<rect x="1358" y="319" width="5" height="1" fill="#f23645"/>
<rect x="1366" y="312" width="1" height="9" fill="#089981"/>
<rect x="1364" y="318" width="5" height="3" fill="#089981"/>
<rect x="1372" y="303" width="1" height="18" fill="#089981"/>
<rect x="1370" y="312" width="5" height="7" fill="#089981"/>
<rect x="1378" y="303" width="1" height="12" fill="#f23645"/>
<rect x="1376" y="312" width="5" height="1" fill="#f23645"/>
<rect x="1384" y="309" width="1" height="8" fill="#f23645"/>
<rect x="1382" y="313" width="5" height="4" fill="#f23645"/>
<rect x="1390" y="312" width="1" height="8" fill="#089981"/>
<rect x="1388" y="314" width="5" height="3" fill="#089981"/>
<rect x="1396" y="293" width="1" height="22" fill="#089981"/>
<rect x="1394" y="302" width="5" height="13" fill="#089981"/>
<rect x="1402" y="284" width="1" height="19" fill="#089981"/>
<rect x="1400" y="285" width="5" height="18" fill="#089981"/>
<rect x="1408" y="273" width="1" height="16" fill="#089981"/>
<rect x="1406" y="276" width="5" height="10" fill="#089981"/>
<rect x="1414" y="270" width="1" height="13" fill="#089981"/>
<rect x="1412" y="275" width="5" height="1" fill="#089981"/>
<rect x="1420" y="273" width="1" height="9" fill="#f23645"/>
<rect x="1418" y="275" width="5" height="5" fill="#f23645"/>
<rect x="1426" y="276" width="1" height="19" fill="#f23645"/>
<rect x="1424" y="279" width="5" height="15" fill="#f23645"/>
<rect x="1432" y="265" width="1" height="29" fill="#089981"/>
<rect x="1430" y="281" width="5" height="13" fill="#089981"/>
<rect x="1438" y="273" width="1" height="9" fill="#089981"/>
<rect x="1436" y="281" width="5" height="1" fill="#089981"/>
<rect x="1444" y="265" width="1" height="17" fill="#089981"/>
<rect x="1442" y="267" width="5" height="15" fill="#089981"/>
<rect x="1450" y="208" width="1" height="60" fill="#089981"/>
<rect x="1448" y="213" width="5" height="55" fill="#089981"/>
<rect x="1456" y="200" width="1" height="42" fill="#f23645"/>
<rect x="1454" y="213" width="5" height="19" fill="#f23645"/>
<rect x="1462" y="229" width="1" height="31" fill="#f23645"/>
<rect x="1460" y="231" width="5" height="17" fill="#f23645"/>
<rect x="1468" y="234" width="1" height="19" fill="#f23645"/>
<rect x="1466" y="247" width="5" height="4" fill="#f23645"/>
<rect x="1474" y="225" width="1" height="32" fill="#089981"/>
<rect x="1472" y="238" width="5" height="13" fill="#089981"/>
<rect x="1480" y="216" width="1" height="30" fill="#089981"/>
<rect x="1478" y="229" width="5" height="10" fill="#089981"/>
<rect x="1486" y="221" width="1" height="16" fill="#089981"/>
<rect x="1484" y="226" width="5" height="4" fill="#089981"/>
<rect x="1492" y="225" width="1" height="28" fill="#f23645"/>
<rect x="1490" y="226" width="5" height="15" fill="#f23645"/>
<rect x="1498" y="238" width="1" height="22" fill="#f23645"/>
<rect x="1496" y="240" width="5" height="7" fill="#f23645"/>
<rect x="1504" y="243" width="1" height="23" fill="#f23645"/>
<rect x="1502" y="246" width="5" height="4" fill="#f23645"/>
<rect x="1510" y="233" width="1" height="31" fill="#f23645"/>
<rect x="1508" y="249" width="5" height="13" fill="#f23645"/>
<rect x="1516" y="247" width="1" height="28" fill="#f23645"/>
<rect x="1514" y="261" width="5" height="4" fill="#f23645"/>
<rect x="1522" y="253" width="1" height="24" fill="#089981"/>
<rect x="1520" y="258" width="5" height="7" fill="#089981"/>
<rect x="1528" y="258" width="1" height="23" fill="#f23645"/>
<rect x="1526" y="258" width="5" height="17" fill="#f23645"/>
<rect x="1534" y="273" width="1" height="28" fill="#f23645"/>
<rect x="1532" y="274" width="5" height="22" fill="#f23645"/>
<rect x="1540" y="289" width="1" height="33" fill="#f23645"/>
<rect x="1538" y="295" width="5" height="21" fill="#f23645"/>
<rect x="1546" y="295" width="1" height="32" fill="#089981"/>
<rect x="1544" y="298" width="5" height="18" fill="#089981"/>
<rect x="1552" y="289" width="1" height="24" fill="#089981"/>
<rect x="1550" y="294" width="5" height="5" fill="#089981"/>
<rect x="1558" y="294" width="1" height="39" fill="#f23645"/>
<rect x="1556" y="294" width="5" height="17" fill="#f23645"/>
<rect x="1564" y="284" width="1" height="35" fill="#089981"/>
<rect x="1562" y="289" width="5" height="22" fill="#089981"/>
<rect x="1570" y="284" width="1" height="22" fill="#f23645"/>
<rect x="1568" y="289" width="5" height="7" fill="#f23645"/>
<rect x="1576" y="257" width="1" height="39" fill="#089981"/>
<rect x="1574" y="274" width="5" height="22" fill="#089981"/>
<rect x="1582" y="256" width="1" height="22" fill="#089981"/>
<rect x="1580" y="266" width="5" height="9" fill="#089981"/>
<rect x="1588" y="237" width="1" height="30" fill="#089981"/>
<rect x="1586" y="256" width="5" height="11" fill="#089981"/>
<rect x="1594" y="254" width="1" height="17" fill="#f23645"/>
<rect x="1592" y="256" width="5" height="13" fill="#f23645"/>
<rect x="1600" y="261" width="1" height="17" fill="#f23645"/>
<rect x="1598" y="268" width="5" height="9" fill="#f23645"/>
<rect x="1606" y="264" width="1" height="13" fill="#089981"/>
<rect x="1604" y="274" width="5" height="3" fill="#089981"/>
<rect x="1612" y="266" width="1" height="27" fill="#f23645"/>
<rect x="1610" y="274" width="5" height="13" fill="#f23645"/>
<rect x="1618" y="275" width="1" height="21" fill="#089981"/>
<rect x="1616" y="279" width="5" height="8" fill="#089981"/>
<rect x="1624" y="256" width="1" height="40" fill="#089981"/>
<rect x="1622" y="260" width="5" height="20" fill="#089981"/>
<rect x="1630" y="250" width="1" height="19" fill="#089981"/>
<rect x="1628" y="258" width="5" height="3" fill="#089981"/>
<rect x="1636" y="253" width="1" height="18" fill="#f23645"/>
<rect x="1634" y="258" width="5" height="8" fill="#f23645"/>
<rect x="1642" y="251" width="1" height="44" fill="#f23645"/>
<rect x="1640" y="265" width="5" height="17" fill="#f23645"/>
<rect x="1648" y="277" width="1" height="23" fill="#f23645"/>
<rect x="1646" y="281" width="5" height="11" fill="#f23645"/>
<rect x="1654" y="281" width="1" height="32" fill="#f23645"/>
<rect x="1652" y="291" width="5" height="7" fill="#f23645"/>
<rect x="1660" y="221" width="1" height="84" fill="#089981"/>
<rect x="1658" y="222" width="5" height="76" fill="#089981"/>
<rect x="1666" y="149" width="1" height="86" fill="#089981"/>
<rect x="1664" y="161" width="5" height="62" fill="#089981"/>
<rect x="1672" y="149" width="1" height="43" fill="#f23645"/>
<rect x="1670" y="161" width="5" height="23" fill="#f23645"/>
<rect x="1678" y="170" width="1" height="25" fill="#089981"/>
<rect x="1676" y="180" width="5" height="4" fill="#089981"/>
<rect x="1684" y="166" width="1" height="19" fill="#f23645"/>
<rect x="1682" y="180" width="5" height="4" fill="#f23645"/>
<rect x="1690" y="161" width="1" height="24" fill="#089981"/>
<rect x="1688" y="167" width="5" height="17" fill="#089981"/>
<rect x="1696" y="154" width="1" height="22" fill="#089981"/>
<rect x="1694" y="164" width="5" height="4" fill="#089981"/>
<rect x="1702" y="160" width="1" height="14" fill="#f23645"/>
<rect x="1700" y="164" width="5" height="8" fill="#f23645"/>
<rect x="1708" y="146" width="1" height="28" fill="#089981"/>
<rect x="1706" y="150" width="5" height="22" fill="#089981"/>
<rect x="1714" y="149" width="1" height="19" fill="#f23645"/>
<rect x="1712" y="150" width="5" height="16" fill="#f23645"/>
<rect x="1720" y="122" width="1" height="44" fill="#089981"/>
<rect x="1718" y="135" width="5" height="31" fill="#089981"/>
<rect x="1726" y="97" width="1" height="39" fill="#089981"/>
<rect x="1724" y="116" width="5" height="20" fill="#089981"/>
<rect x="1732" y="108" width="1" height="25" fill="#f23645"/>
<rect x="1730" y="116" width="5" height="11" fill="#f23645"/>
<rect x="1738" y="121" width="1" height="17" fill="#f23645"/>
<rect x="1736" y="126" width="5" height="12" fill="#f23645"/>
<rect x="1744" y="132" width="1" height="7" fill="#089981"/>
<rect x="1742" y="133" width="5" height="5" fill="#089981"/>
</g>
<line x1="10" y1="133.5" x2="1807" y2="133.5" stroke="#089981" stroke-width="1" stroke-dasharray="1 2" shape-rendering="crispEdges"/>
<g clip-path="url(#paxis)">
<text class="ax" x="1815" y="34.7" textLength="48.6" lengthAdjust="spacingAndGlyphs">44400.00</text>
<text class="ax" x="1815" y="78.7" textLength="48.6" lengthAdjust="spacingAndGlyphs">44000.00</text>
<text class="ax" x="1815" y="121.7" textLength="48.6" lengthAdjust="spacingAndGlyphs">43600.00</text>
<text class="ax" x="1815" y="165.7" textLength="48.6" lengthAdjust="spacingAndGlyphs">43200.00</text>
<text class="ax" x="1815" y="209.7" textLength="48.6" lengthAdjust="spacingAndGlyphs">42800.00</text>
<text class="ax" x="1815" y="252.7" textLength="48.6" lengthAdjust="spacingAndGlyphs">42400.00</text>
<text class="ax" x="1815" y="296.7" textLength="48.6" lengthAdjust="spacingAndGlyphs">42000.00</text>
<text class="ax" x="1815" y="340.7" textLength="48.6" lengthAdjust="spacingAndGlyphs">41600.00</text>
<text class="ax" x="1815" y="383.7" textLength="48.6" lengthAdjust="spacingAndGlyphs">41200.00</text>
<text class="ax" x="1815" y="427.7" textLength="48.6" lengthAdjust="spacingAndGlyphs">40800.00</text>
<text class="ax" x="1815" y="471.7" textLength="48.6" lengthAdjust="spacingAndGlyphs">40400.00</text>
<text class="ax" x="1815" y="514.7" textLength="48.6" lengthAdjust="spacingAndGlyphs">40000.00</text>
<text class="ax" x="1815" y="558.7" textLength="48.6" lengthAdjust="spacingAndGlyphs">39600.00</text>
<text class="ax" x="1815" y="602.7" textLength="48.6" lengthAdjust="spacingAndGlyphs">39200.00</text>
<text class="ax" x="1815" y="645.7" textLength="48.6" lengthAdjust="spacingAndGlyphs">38800.00</text>
<text class="ax" x="1815" y="689.7" textLength="48.6" lengthAdjust="spacingAndGlyphs">38400.00</text>
</g>
<path d="M1807 125H1867a2 2 0 0 1 2 2V140a2 2 0 0 1 -2 2H1807Z" fill="#089981"/>
<text class="lb w" x="1814.8" y="137.9" textLength="48.6" lengthAdjust="spacingAndGlyphs">43457.85</text>
<path d="M1807 709H1837a2 2 0 0 1 2 2V725H1807Z" fill="#26a69a"/>
<text class="lb w" x="1814.9" y="722.0" textLength="18.6" lengthAdjust="spacingAndGlyphs">203</text>
<g clip-path="url(#taxis)" text-anchor="middle">
<text x="130.4" y="743.2" textLength="12" lengthAdjust="spacingAndGlyphs">19</text>
<text x="274.4" y="743.2" textLength="12" lengthAdjust="spacingAndGlyphs">20</text>
<text x="418.4" y="743.2" textLength="12" lengthAdjust="spacingAndGlyphs">21</text>
<text x="562.4" y="743.2" textLength="12" lengthAdjust="spacingAndGlyphs">22</text>
<text x="706.4" y="743.2" textLength="12" lengthAdjust="spacingAndGlyphs">23</text>
<text x="850.4" y="743.2" textLength="12" lengthAdjust="spacingAndGlyphs">24</text>
<text x="994.4" y="743.2" textLength="12" lengthAdjust="spacingAndGlyphs">25</text>
<text x="1138.4" y="743.2" textLength="12" lengthAdjust="spacingAndGlyphs">26</text>
<text x="1282.4" y="743.2" textLength="12" lengthAdjust="spacingAndGlyphs">27</text>
<text x="1426.4" y="743.2" textLength="12" lengthAdjust="spacingAndGlyphs">28</text>
<text x="1570.4" y="743.2" textLength="12" lengthAdjust="spacingAndGlyphs">29</text>
<text x="1714.4" y="743.2" textLength="12" lengthAdjust="spacingAndGlyphs">30</text>
<text x="1798.5" y="743.2" textLength="29.6" lengthAdjust="spacingAndGlyphs">14:00</text>
</g>
<text x="18.3" y="45.8" textLength="36.7" lengthAdjust="spacingAndGlyphs">Bitcoin</text>
<text x="60" y="45.8" textLength="4.3" lengthAdjust="spacingAndGlyphs">/</text>
<text x="69" y="45.8" textLength="51.6" lengthAdjust="spacingAndGlyphs">TetherUS,</text>
<text x="125.9" y="45.8" textLength="15.4" lengthAdjust="spacingAndGlyphs">1h,</text>
<text x="146.4" y="45.8" textLength="45.1" lengthAdjust="spacingAndGlyphs">BINANCE</text>
<text x="10.3" y="19.0" textLength="50.8" lengthAdjust="spacingAndGlyphs">Published</text>
<text x="65.3" y="19.0" textLength="12.2" lengthAdjust="spacingAndGlyphs">on</text>
<text x="82.3" y="19.0" textLength="93.0" lengthAdjust="spacingAndGlyphs">TradingView.com,</text>
<text x="180.6" y="19.0" textLength="17.5" lengthAdjust="spacingAndGlyphs">Jan</text>
<text x="202.9" y="19.0" textLength="15.4" lengthAdjust="spacingAndGlyphs">30,</text>
<text x="223.1" y="19.0" textLength="25.0" lengthAdjust="spacingAndGlyphs">2024</text>
<text x="251.8" y="19.0" textLength="28.7" lengthAdjust="spacingAndGlyphs">05:21</text>
<text x="285.2" y="19.0" textLength="21.3" lengthAdjust="spacingAndGlyphs">UTC</text>
<text x="200" y="45.8" textLength="7.5" lengthAdjust="spacingAndGlyphs">O</text>
<text x="208" y="45.8" class="g" textLength="47.8" lengthAdjust="spacingAndGlyphs">43421.50</text>
<text x="263.6" y="45.8" textLength="7" lengthAdjust="spacingAndGlyphs">H</text>
<text x="271" y="45.8" class="g" textLength="48" lengthAdjust="spacingAndGlyphs">43465.22</text>
<text x="327" y="45.8" textLength="5.5" lengthAdjust="spacingAndGlyphs">L</text>
<text x="333" y="45.8" class="g" textLength="48" lengthAdjust="spacingAndGlyphs">43404.32</text>
<text x="388.8" y="45.8" textLength="7" lengthAdjust="spacingAndGlyphs">C</text>
<text x="396" y="45.8" class="g" textLength="47.9" lengthAdjust="spacingAndGlyphs">43457.85</text>
<text x="451.7" y="45.8" class="g" textLength="34.8" lengthAdjust="spacingAndGlyphs">+36.36</text>
<text x="491.4" y="45.8" class="g" textLength="44.4" lengthAdjust="spacingAndGlyphs">(+0.08%)</text>
<text x="18.3" y="62.9" textLength="15.7" lengthAdjust="spacingAndGlyphs">Vol</text>
<text x="38.3" y="63.5" style="font-weight:bold;font-size:15px">·</text>
<text x="46.2" y="62.9" textLength="19.9" lengthAdjust="spacingAndGlyphs">BTC</text>
<text x="74" y="62.9" class="v" textLength="18.6" lengthAdjust="spacingAndGlyphs">203</text>
<g transform="translate(10.05 763.2) scale(0.541 0.517)" fill="#131722"><path d="M14 22H7V11H0V4h14v18zM28 22h-8l7.5-18h8L28 22z"/><circle cx="20" cy="8" r="4"/></g>
<text x="33.1" y="774.7" style="font-size:13.5px" textLength="70" lengthAdjust="spacingAndGlyphs">TradingView</text>
</svg></body></html>
